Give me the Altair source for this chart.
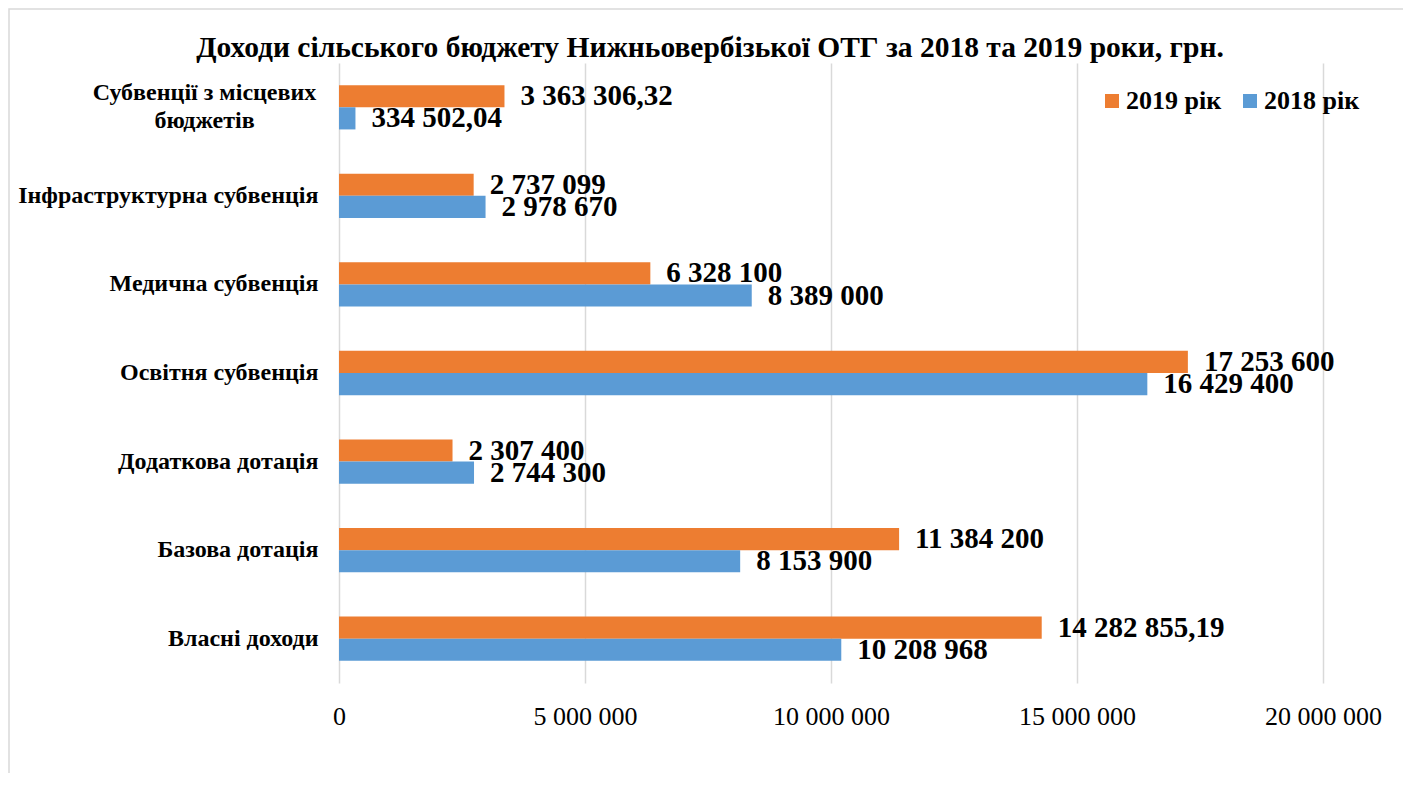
import altair as alt
import pandas as pd

categories = [
    "Субвенції з місцевих бюджетів",
    "Інфраструктурна субвенція",
    "Медична субвенція",
    "Освітня субвенція",
    "Додаткова дотація",
    "Базова дотація",
    "Власні доходи",
]
values_2019 = [3363306.32, 2737099, 6328100, 17253600, 2307400, 11384200, 14282855.19]
values_2018 = [334502.04, 2978670, 8389000, 16429400, 2744300, 8153900, 10208968]
series = ["2019 рік", "2018 рік"]
colors = ["#ED7D31", "#5B9BD5"]
x_ticks = [0, 5000000, 10000000, 15000000, 20000000]
title_text = "Доходи сільського бюджету Нижньовербізької ОТГ за 2018 та 2019 роки, грн."


def fmt(v):
    if abs(v - round(v)) > 1e-9:
        s = f"{v:,.2f}"
    else:
        s = f"{int(round(v)):,}"
    return s.replace(",", " ").replace(".", ",")


rows = []
for c, v in zip(categories, values_2019):
    rows.append({"cat": c, "series": series[0], "value": v, "label": fmt(v)})
for c, v in zip(categories, values_2018):
    rows.append({"cat": c, "series": series[1], "value": v, "label": fmt(v)})
df = pd.DataFrame(rows)

FONT = "Liberation Serif"
multi = "Субвенції з місцевих бюджетів"
test = "datum.value == '" + multi + "'"
label_expr = test + " ? ['Субвенції з місцевих', 'бюджетів'] : datum.value"

W, H = 984, 620

base = alt.Chart(df).encode(
    y=alt.Y(
        "cat:N",
        sort=categories,
        title=None,
        scale=alt.Scale(paddingInner=0.5, paddingOuter=0.25),
        axis=alt.Axis(
            domain=False,
            ticks=False,
            labelFont=FONT,
            labelFontSize=24,
            labelFontWeight="bold",
            labelColor="black",
            labelAlign={"condition": {"test": test, "value": "center"}, "value": "right"},
            labelPadding={"condition": {"test": test, "value": 135}, "value": 21},
            labelOffset={"condition": {"test": test, "value": -14}, "value": 0},
            labelLineHeight=28,
            labelLimit=400,
            labelExpr=label_expr,
        ),
    ),
    yOffset=alt.YOffset("series:N", sort=series),
)

bars = base.mark_bar().encode(
    x=alt.X(
        "value:Q",
        title=None,
        scale=alt.Scale(domain=[0, 20000000], nice=False),
        axis=alt.Axis(
            values=x_ticks,
            domain=False,
            ticks=False,
            grid=True,
            gridColor="#d9d9d9",
            gridWidth=1.5,
            labelFont=FONT,
            labelFontSize=26,
            labelColor="black",
            labelPadding=20,
            labelFlush=False,
            labelExpr="replace(format(datum.value, ','), regexp(',', 'g'), ' ')",
        ),
    ),
    color=alt.Color(
        "series:N",
        sort=series,
        scale=alt.Scale(domain=series, range=colors),
        legend=alt.Legend(
            title=None,
            orient="none",
            legendX=760,
            legendY=25,
            direction="horizontal",
            symbolType="square",
            symbolSize=196,
            symbolStrokeWidth=0,
            labelFont=FONT,
            labelFontSize=26,
            labelFontWeight="bold",
            labelColor="black",
            columnPadding=15,
            labelOffset=1,
            padding=0,
        ),
    ),
)

texts = base.mark_text(
    align="left",
    baseline="middle",
    dx=16,
    font=FONT,
    fontSize=29,
    fontWeight="bold",
    color="black",
).encode(x="value:Q", text="label:N")

one = pd.DataFrame({"a": [0]})

frame = alt.Chart(one).mark_rect(
    fill=None, stroke="#d9d9d9", strokeWidth=1.5
).encode(
    x=alt.value(-330),
    x2=alt.value(1072),
    y=alt.value(-54),
    y2=alt.value(900),
)

title = alt.Chart(one).mark_text(
    align="center",
    baseline="middle",
    font=FONT,
    fontSize=29.5,
    fontWeight="bold",
    color="black",
).encode(x=alt.value(371), y=alt.value(-15), text=alt.value(title_text))

chart = (
    alt.layer(frame, bars, texts, title)
    .properties(
        width=W,
        height=H,
        autosize=alt.AutoSizeParams(type="none"),
        padding={"left": 331, "top": 55, "right": 80, "bottom": 90},
    )
    .configure_view(stroke=None)
)

chart.save("out.html", embed_options={"renderer": "svg", "actions": False})
